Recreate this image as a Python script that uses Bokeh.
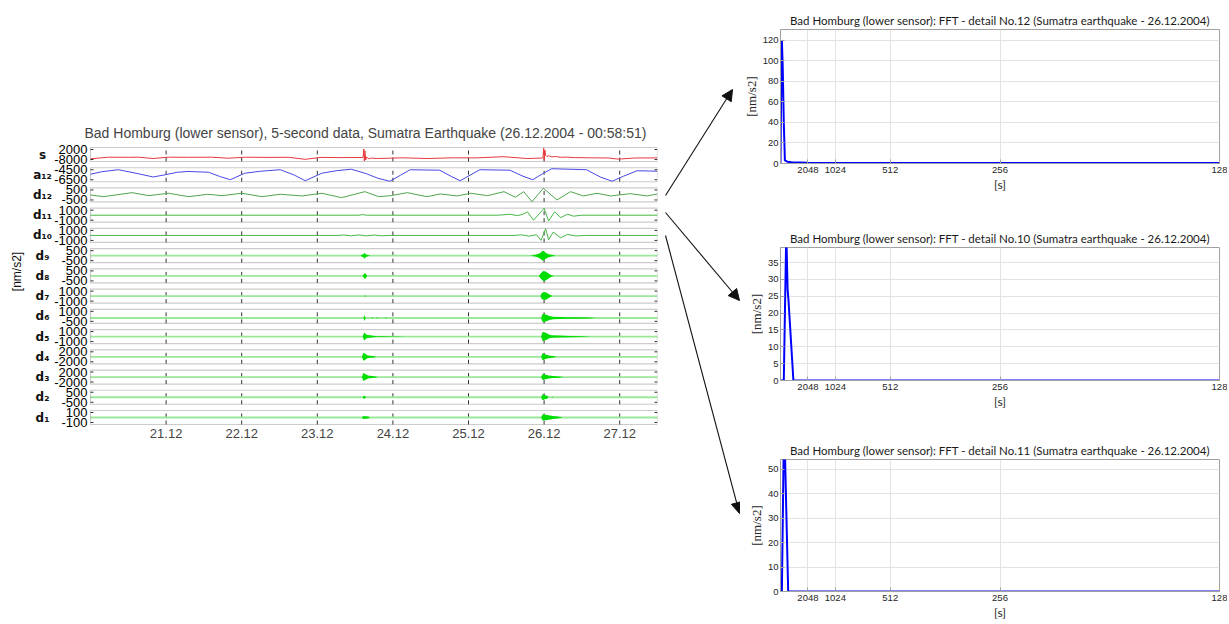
import math
from bokeh.plotting import figure
from bokeh.models import Range1d, FixedTicker, Arrow, NormalHead, Spacer, BoxAnnotation
from bokeh.layouts import row, column
from bokeh.embed import file_html
from bokeh.resources import INLINE
from bokeh.core.properties import value

# ---------------------------------------------------------------- data
left_title = "Bad Homburg (lower sensor), 5-second data, Sumatra Earthquake (26.12.2004 - 00:58:51)"
day_start, day_end = 20.0, 27.5          # days of December 2004
day_ticks = [21, 22, 23, 24, 25, 26, 27]
day_labels = ["21.12", "22.12", "23.12", "24.12", "25.12", "26.12", "27.12"]

strip_names = ["s", "a₁₂", "d₁₂", "d₁₁", "d₁₀", "d₉", "d₈", "d₇", "d₆", "d₅", "d₄", "d₃", "d₂", "d₁"]
strip_tick_hi = [2000, -4500, 500, 1000, 1000, 500, 500, 1000, 1000, 1000, 2000, 2000, 500, 100]
strip_tick_lo = [-8000, -6500, -500, -1000, -1000, -500, -500, -1000, -500, -1000, -2000, -2000, -500, -100]

# signal s [nm/s2]
s_day = [20.00, 20.24, 20.50, 20.63, 20.83, 21.03, 21.30, 21.60, 21.82, 22.05, 22.35, 22.62, 22.84,
         23.05, 23.30, 23.58, 23.605, 23.615, 23.622, 23.63, 23.64, 23.65, 23.68, 23.72, 23.80, 24.13,
         24.45, 24.80, 25.10, 25.46, 25.77, 25.96, 25.985, 25.995, 26.003, 26.01, 26.02, 26.035, 26.06,
         26.10, 26.15, 26.22, 26.30, 26.40, 26.60, 26.85, 26.98, 27.20, 27.50]
s_val = [-7300, -5700, -5800, -5700, -7000, -5700, -5800, -5700, -6700, -5700, -5900, -5800, -7800,
         -5900, -6100, -6000, -6100, 2500, -9500, 600, -8500, -5500, -7200, -6600, -7000, -6300,
         -7000, -6300, -6400, -5200, -7000, -6600, -6300, 3300, -8800, 1500, -3800, -5000, -4200,
         -5400, -5000, -5800, -5600, -6100, -6300, -6500, -7600, -6500, -6400]

# approximation a12
a12_day = [20.00, 20.15, 20.37, 20.60, 20.83, 20.99, 21.15, 21.29, 21.56, 21.72, 21.85, 22.04, 22.25,
           22.51, 22.70, 22.84, 23.06, 23.25, 23.45, 23.65, 23.80, 23.96, 24.10, 24.23, 24.62, 24.78,
           24.89, 25.02, 25.15, 25.55, 25.72, 25.85, 25.98, 26.10, 26.56, 26.75, 26.90, 27.05, 27.23, 27.50]
a12_val = [-5400, -4900, -4500, -5200, -5950, -5500, -5000, -4850, -5000, -5900, -6500, -5200, -4800,
           -4500, -5600, -6700, -5200, -4700, -4400, -5300, -6200, -6800, -5600, -4500, -4600, -5900,
           -6700, -5600, -4500, -4600, -5800, -6500, -5300, -4300, -4500, -6000, -6800, -5800, -4700, -4800]

# detail d12
d12_day = [20.00, 20.17, 20.55, 20.77, 21.03, 21.30, 21.55, 21.74, 22.00, 22.27, 22.51, 22.80, 23.06,
           23.32, 23.63, 23.81, 23.97, 24.19, 24.45, 24.63, 24.85, 25.03, 25.25, 25.47, 25.62, 25.73,
           25.84, 25.99, 26.17, 26.35, 26.52, 26.70, 26.88, 27.14, 27.36, 27.50]
d12_val = [0, -170, 230, -70, 170, -170, 70, -70, 170, -170, 70, -100, 170,
           -270, 330, -170, -70, 230, -170, 100, -100, 170, -70, 330, -230, 330,
           -670, 670, -500, 330, -100, 170, -100, 130, -100, 100]

# detail d11
d11_day = [20.00, 23.55, 23.60, 23.65, 25.40, 25.55, 25.65, 25.72, 25.78, 25.86, 26.00, 26.06, 26.14,
           26.22, 26.31, 26.39, 26.50, 27.50]
d11_val = [0, 0, 120, 0, 0, 200, -100, 200, 670, -1000, 1380, -1130, 670, -470, 200, -200, 0, 0]

# detail d10
d10_day = [20.00, 23.25, 23.35, 23.45, 23.55, 23.65, 23.75, 23.85, 23.95, 25.60, 25.70, 25.80, 25.90,
           25.96, 26.02, 26.06, 26.12, 26.22, 26.31, 26.42, 26.55, 27.50]
d10_val = [0, 0, 80, -80, 100, -100, 80, -80, 0, 0, 120, -150, 150, -1000, 1330, -870, 660, -470, 200,
           -100, 0, 0]

# details d9 .. d1 : amplitude envelopes of the wave trains (quiet elsewhere)
d9_day = [20.00, 23.57, 23.59, 23.61, 23.625, 23.64, 23.66, 23.70, 25.82, 25.88, 25.93, 25.96, 25.98,
          26.00, 26.02, 26.06, 26.10, 26.15, 27.50]
d9_amp = [0, 0, 80, 150, 300, 150, 80, 0, 0, 80, 200, 350, 500, 450, 300, 150, 80, 0, 0]
d8_day = [20.00, 23.60, 23.62, 23.64, 23.66, 25.93, 25.96, 25.99, 26.02, 26.05, 26.09, 26.13, 27.50]
d8_amp = [0, 0, 250, 250, 0, 0, 300, 500, 450, 300, 100, 0, 0]
d7_day = [20.00, 23.62, 23.635, 23.65, 25.95, 25.97, 26.00, 26.03, 26.06, 26.09, 26.11, 27.50]
d7_amp = [0, 0, 100, 0, 0, 600, 800, 700, 400, 150, 0, 0]
d6_day = [20.00, 23.61, 23.625, 23.64, 23.72, 23.73, 23.74, 23.78, 23.79, 23.80, 23.90, 23.91, 23.92,
          25.96, 25.98, 26.01, 26.04, 26.07, 26.12, 26.20, 26.30, 26.45, 26.60, 26.68, 27.50]
d6_amp = [0, 0, 450, 0, 0, 120, 0, 0, 120, 0, 0, 100, 0, 0, 600, 550, 450, 300, 200, 150, 120, 100, 80, 0, 0]
d5_day = [20.00, 23.60, 23.62, 23.64, 23.66, 23.70, 23.74, 23.78, 23.85, 23.95, 24.10, 24.17, 25.96,
          25.98, 26.01, 26.04, 26.07, 26.10, 26.20, 26.35, 26.50, 26.62, 27.50]
d5_amp = [0, 0, 800, 500, 300, 250, 150, 80, 60, 50, 30, 0, 0, 900, 800, 600, 350, 250, 200, 120, 80, 0, 0]
d4_day = [20.00, 23.59, 23.61, 23.635, 23.66, 23.70, 23.75, 23.78, 25.96, 25.98, 26.01, 26.04, 26.08,
          26.13, 26.16, 27.50]
d4_amp = [0, 0, 1600, 1200, 600, 400, 250, 0, 0, 1400, 1000, 700, 450, 300, 0, 0]
d3_day = [20.00, 23.59, 23.61, 23.64, 23.67, 23.72, 23.77, 23.80, 25.96, 25.98, 26.02, 26.06, 26.12,
          26.20, 26.26, 27.50]
d3_amp = [0, 0, 1600, 1100, 600, 400, 250, 0, 0, 1200, 900, 600, 400, 250, 0, 0]
d2_day = [20.00, 23.60, 23.615, 23.63, 23.645, 25.96, 25.98, 26.01, 26.04, 26.06, 26.10, 26.11, 26.12, 27.50]
d2_amp = [0, 0, 150, 120, 0, 0, 300, 200, 150, 0, 0, 60, 0, 0]
d1_day = [20.00, 23.59, 23.61, 23.64, 23.67, 23.70, 25.96, 25.98, 26.02, 26.06, 26.12, 26.18, 26.25, 27.50]
d1_amp = [0, 0, 30, 25, 20, 0, 0, 60, 55, 45, 30, 20, 0, 0]

# FFT spectra (frequency as bin index k, period = 2048 s / k)
fft_periods = [2048, 1024, 512, 256, 128]
fft_titles = [
    "Bad Homburg (lower sensor): FFT - detail No.12 (Sumatra earthquake - 26.12.2004)",
    "Bad Homburg (lower sensor): FFT - detail No.10 (Sumatra earthquake - 26.12.2004)",
    "Bad Homburg (lower sensor): FFT - detail No.11 (Sumatra earthquake - 26.12.2004)",
]
fft12_k = [0.00, 0.02, 0.05, 0.08, 0.12, 0.16, 0.25, 0.40, 1.00, 2.00, 4.00, 8.00, 16.00]
fft12_amp = [0.0, 60.0, 120.0, 95.0, 40.0, 3.0, 1.8, 1.2, 0.8, 0.6, 0.5, 0.4, 0.4]
fft10_k = [0.00, 0.12, 0.21, 0.26, 0.29, 0.47, 1.00, 16.00]
fft10_amp = [0.0, 0.0, 44.0, 27.0, 24.0, 0.0, 0.0, 0.0]
fft11_k = [0.00, 0.05, 0.12, 0.16, 0.28, 1.00, 16.00]
fft11_amp = [0.0, 0.0, 62.0, 58.0, 0.0, 0.0, 0.0]
fft12_yticks = [0, 20, 40, 60, 80, 100, 120]
fft10_yticks = [0, 5, 10, 15, 20, 25, 30, 35]
fft11_yticks = [0, 10, 20, 30, 40, 50]

# ---------------------------------------------------------------- left panel (one figure, 14 strips)
SANS = "Liberation Sans"
CAL = "Lato"
PX_PER_DAY = 567 / (day_end - day_start)
LABEL_AREA = 90          # px left of the strips kept for labels (inside the frame)
FRAME_TOP, FRAME_BOT = 141, 428      # page y of the plot frame
STRIP_TOP, STRIP_BOT = 147, 424      # page y of first strip top / last strip bottom
STRIP_H = 14
n = len(strip_names)
pitch = (STRIP_BOT - STRIP_TOP - STRIP_H) / (n - 1)
FH = FRAME_BOT - FRAME_TOP

wave_series = {0: (s_day, s_val, "#e8383d"), 1: (a12_day, a12_val, "#4848e6"),
               2: (d12_day, d12_val, "#4fa64f"), 3: (d11_day, d11_val, "#45b845"),
               4: (d10_day, d10_val, "#45b845")}
burst_series = {5: (d9_day, d9_amp), 6: (d8_day, d8_amp), 7: (d7_day, d7_amp), 8: (d6_day, d6_amp),
                9: (d5_day, d5_amp), 10: (d4_day, d4_amp), 11: (d3_day, d3_amp), 12: (d2_day, d2_amp),
                13: (d1_day, d1_amp)}

TOP_B = 22
lp = figure(width=660, height=TOP_B + FH + 20,
            x_range=Range1d(day_start - LABEL_AREA / PX_PER_DAY, day_end),
            y_range=Range1d(FRAME_BOT, FRAME_TOP), title=left_title,
            toolbar_location=None, output_backend="svg", y_axis_location=None,
            min_border_left=0, min_border_right=3, min_border_top=TOP_B, min_border_bottom=20)
lp.grid.visible = False
lp.outline_line_color = None
lp.title.text_font = SANS
lp.title.text_font_size = "14px"
lp.title.text_font_style = "normal"
lp.title.align = "left"
lp.title.offset = 84
lp.title.standoff = 1

xa = lp.xaxis[0]
xa.ticker = FixedTicker(ticks=day_ticks)
xa.major_label_overrides = {t: lab for t, lab in zip(day_ticks, day_labels)}
xa.major_label_text_font = SANS
xa.major_label_text_font_size = "13px"
xa.major_label_standoff = 0
xa.axis_line_color = None
xa.major_tick_in = 0
xa.major_tick_out = 0
xa.minor_tick_line_color = None

# overall unit label
lp.text(x=[day_start], y=[271], text=["[nm/s2]"], x_offset=-74, angle=math.pi / 2,
        text_align="center", text_baseline="middle", text_font=value(SANS),
        text_font_size="12px", text_color="#111111")

extra = {}
for i in range(n):
    lo, hi = strip_tick_lo[i], strip_tick_hi[i]
    pad = 0.2 * (hi - lo)
    ylo, yhi = lo - pad, hi + pad
    t_page = STRIP_TOP + i * pitch
    fb = (FRAME_BOT - t_page - STRIP_H) / FH
    ft = (FRAME_BOT - t_page) / FH
    scale = (yhi - ylo) / (ft - fb)
    start = ylo - fb * scale
    extra["r%d" % i] = Range1d(start, start + scale)
lp.extra_y_ranges = extra

for i in range(n):
    lo, hi = strip_tick_lo[i], strip_tick_hi[i]
    pad = 0.2 * (hi - lo)
    ylo, yhi = lo - pad, hi + pad
    name = "r%d" % i
    # dashed day lines inside the strip
    lp.segment(x0=day_ticks, y0=[ylo] * len(day_ticks), x1=day_ticks, y1=[yhi] * len(day_ticks),
               y_range_name=name, line_color="#333333", line_dash="4 3", line_width=1)
    # data
    if i in wave_series:
        xs, ys, col = wave_series[i]
        lp.line(xs, ys, line_color=col, line_width=1, y_range_name=name)
    else:
        xs, amp = burst_series[i]
        lp.line(xs, [0 * a for a in amp], line_color="#9be89b", line_width=1.8, y_range_name=name)
        lp.varea(x=xs, y1=[-a for a in amp], y2=amp, fill_color="#00dd00", y_range_name=name)
    # tick marks (inside, both sides)
    lp.ray(x=[day_start, day_start], y=[lo, hi], length=3, length_units="screen", angle=0,
           line_color="#333333", y_range_name=name)
    lp.ray(x=[day_end, day_end], y=[lo, hi], length=3, length_units="screen", angle=math.pi,
           line_color="#333333", y_range_name=name)
    # strip box
    lp.add_layout(BoxAnnotation(left=day_start, right=day_end, bottom=ylo, top=yhi,
                                y_range_name=name, fill_color=None,
                                line_color="#555555", line_width=1.2))
    # tick labels
    lp.text(x=[day_start, day_start], y=[lo, hi], text=[str(lo), str(hi)], x_offset=-3,
            y_range_name=name, text_align="right", text_baseline="middle",
            text_font=value(SANS), text_font_size="13px", text_color="#000000")
    # strip name
    lp.text(x=[day_start], y=[(lo + hi) / 2], text=[strip_names[i]], x_offset=-48,
            y_range_name=name, text_align="center", text_baseline="middle",
            text_font=value("DejaVu Sans"), text_font_style="bold", text_font_size="12px",
            text_color="#111111")

left_col = column(Spacer(width=660, height=FRAME_TOP - TOP_B), lp)

# ---------------------------------------------------------------- arrows (page coordinates)
arrow_x0 = [665, 665, 665]
arrow_y0 = [195, 212, 235]
arrow_x1 = [732, 739, 739]
arrow_y1 = [89, 300, 513]
af = figure(width=80, height=622, x_range=Range1d(660, 740), y_range=Range1d(622, 0),
            toolbar_location=None, output_backend="svg", min_border=0,
            x_axis_location=None, y_axis_location=None)
af.grid.visible = False
af.outline_line_color = None
for x0, y0, x1, y1 in zip(arrow_x0, arrow_y0, arrow_x1, arrow_y1):
    af.add_layout(Arrow(x_start=x0, y_start=y0, x_end=x1, y_end=y1, line_width=1.1,
                        line_color="#111111",
                        end=NormalHead(size=11, fill_color="#111111", line_color="#111111")))

# ---------------------------------------------------------------- FFT panels
fft_k_ticks = [2048 / per for per in fft_periods]
fft_k_labels = [str(per) for per in fft_periods]


def fft_fig(title, ks, amp, yticks, ymax, height, top, bottom):
    p = figure(width=487, height=height, x_range=Range1d(0, 16), y_range=Range1d(0, ymax),
               title=title, toolbar_location=None, output_backend="svg",
               min_border_left=40, min_border_right=8, min_border_top=top, min_border_bottom=bottom)
    p.line(ks, amp, line_color="#0000ff", line_width=2)
    p.xaxis.ticker = FixedTicker(ticks=fft_k_ticks)
    p.xaxis.major_label_overrides = {k: lab for k, lab in zip(fft_k_ticks, fft_k_labels)}
    p.yaxis.ticker = FixedTicker(ticks=yticks)
    p.xaxis.axis_label = "[s]"
    p.yaxis.axis_label = "[nm/s2]"
    for ax in (p.xaxis[0], p.yaxis[0]):
        ax.major_label_text_font = SANS
        ax.major_label_text_font_size = "9.5px"
        ax.major_label_text_color = "#262626"
        ax.axis_line_color = "#a0a0a0"
        ax.major_tick_line_color = "#a0a0a0"
        ax.major_tick_in = 4
        ax.major_tick_out = 0
        ax.minor_tick_line_color = None
        ax.axis_label_text_font_style = "normal"
        ax.axis_label_text_color = "#262626"
    p.xaxis.axis_label_text_font = CAL
    p.xaxis.axis_label_text_font_size = "12px"
    p.xaxis.axis_label_standoff = 1
    p.xaxis.major_label_standoff = 3
    p.yaxis.axis_label_text_font = "Liberation Serif"
    p.yaxis.axis_label_text_font_size = "13px"
    p.yaxis.axis_label_standoff = 1
    p.yaxis.major_label_standoff = 2
    p.grid.grid_line_color = "#e3e3e3"
    p.outline_line_color = "#a0a0a0"
    p.title.text_font = CAL
    p.title.text_font_size = "11.5px"
    p.title.text_font_style = "normal"
    p.title.text_color = "#1a1a1a"
    p.title.align = "center"
    p.title.standoff = 6
    return p


f12 = fft_fig(fft_titles[0], fft12_k, fft12_amp, fft12_yticks, 130.5, 218, 29, 55)
f10 = fft_fig(fft_titles[1], fft10_k, fft10_amp, fft10_yticks, 39.5, 216, 29, 54)
f11 = fft_fig(fft_titles[2], fft11_k, fft11_amp, fft11_yticks, 54.0, 188, 25, 30)
right_col = column(f12, f10, f11)

layout = row(left_col, af, right_col)
open("out.html", "w").write(file_html(layout, INLINE))
